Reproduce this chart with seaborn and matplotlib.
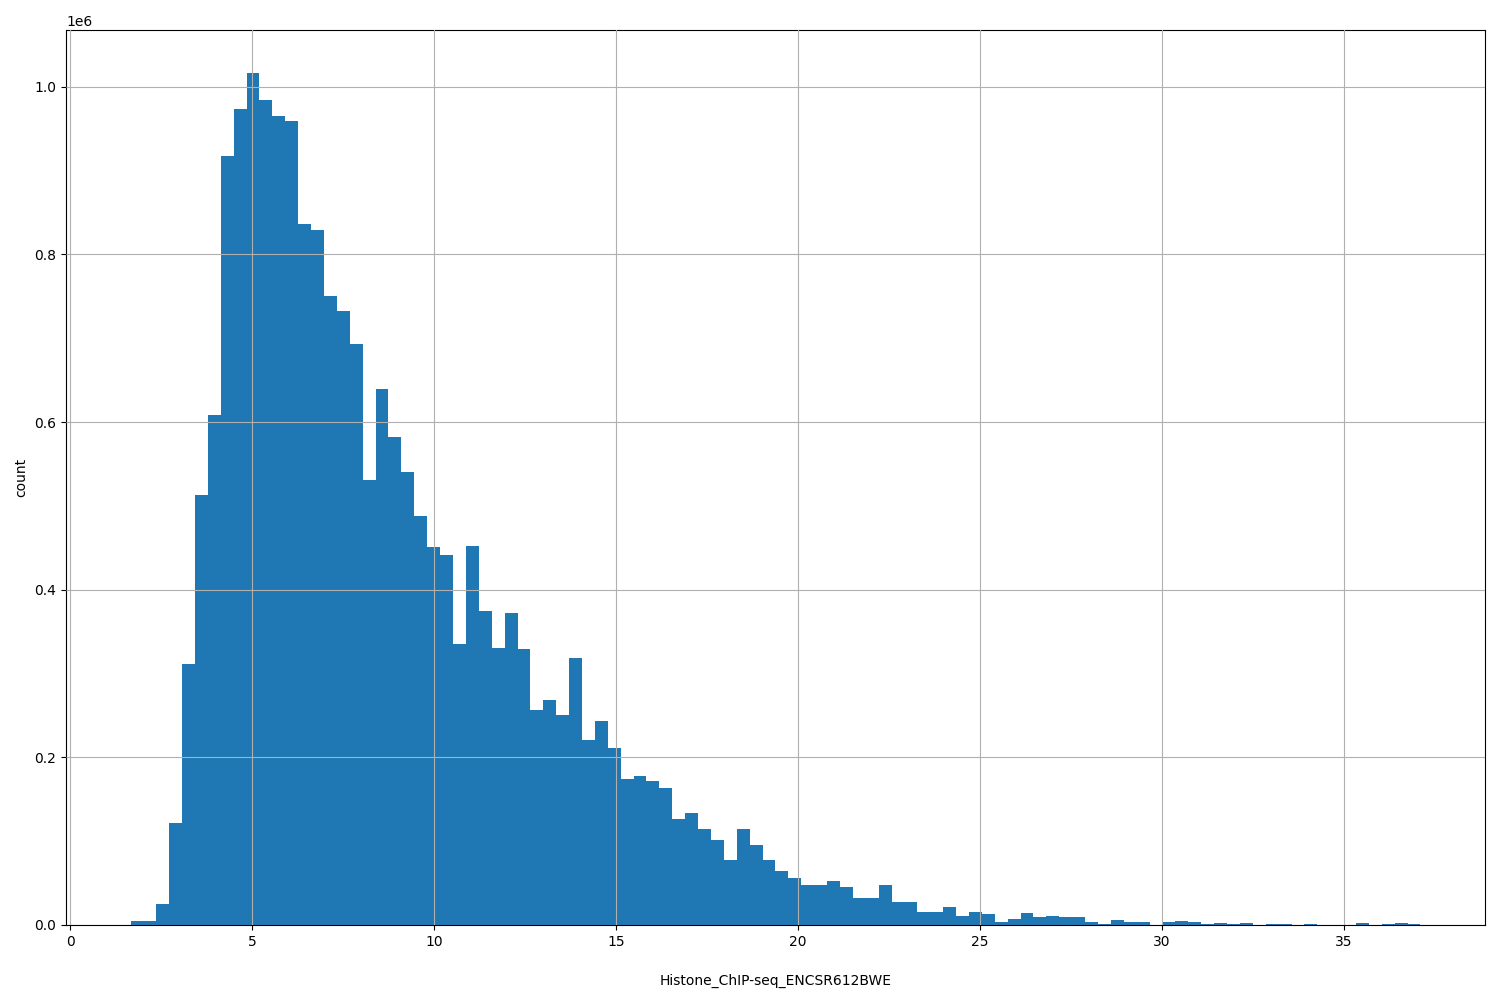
import matplotlib
matplotlib.use("Agg")
import matplotlib.pyplot as plt
import seaborn as sns
import numpy as np
import pandas as pd

# bar heights in millions, 100 equal bins
counts_m = [0.005, 0.005, 0.025, 0.122, 0.312, 0.513, 0.608, 0.917, 0.973, 1.017,
            0.984, 0.965, 0.959, 0.836, 0.829, 0.750, 0.733, 0.693, 0.531, 0.640,
            0.582, 0.541, 0.488, 0.451, 0.441, 0.335, 0.452, 0.375, 0.331, 0.372,
            0.329, 0.257, 0.268, 0.250, 0.318, 0.221, 0.243, 0.211, 0.174, 0.178,
            0.172, 0.163, 0.126, 0.134, 0.114, 0.102, 0.077, 0.115, 0.096, 0.078,
            0.064, 0.056, 0.048, 0.048, 0.053, 0.045, 0.032, 0.032, 0.048, 0.028,
            0.028, 0.015, 0.016, 0.021, 0.011, 0.015, 0.013, 0.004, 0.007, 0.014,
            0.009, 0.011, 0.010, 0.010, 0.003, 0.001, 0.006, 0.004, 0.003, 0.000,
            0.004, 0.005, 0.003, 0.001, 0.002, 0.001, 0.002, 0.000, 0.001, 0.001,
            0.000, 0.001, 0.000, 0.000, 0.000, 0.002, 0.000, 0.001, 0.002, 0.001]
x_min = 1.65
x_max = 37.1
xlabel = "Histone_ChIP-seq_ENCSR612BWE"

edges = np.linspace(x_min, x_max, len(counts_m) + 1)
df = pd.DataFrame({
    "value": (edges[:-1] + edges[1:]) / 2,
    "count": np.array(counts_m) * 1e6,
})

fig = plt.figure(figsize=(15, 10), dpi=100)
ax = fig.add_axes([0.044, 0.075, 0.946, 0.895])
sns.histplot(data=df, x="value", weights="count", bins=list(edges), ax=ax,
             color="#1f77b4", alpha=1, edgecolor="none", linewidth=0,
             antialiased=False)
ax.grid(True, color="#b0b0b0", linewidth=0.8)
ax.set_axisbelow(False)
ax.set_xlabel(xlabel, labelpad=18)
ax.set_ylabel("count")
ax.margins(x=0.05)
fig.savefig("out.png")
